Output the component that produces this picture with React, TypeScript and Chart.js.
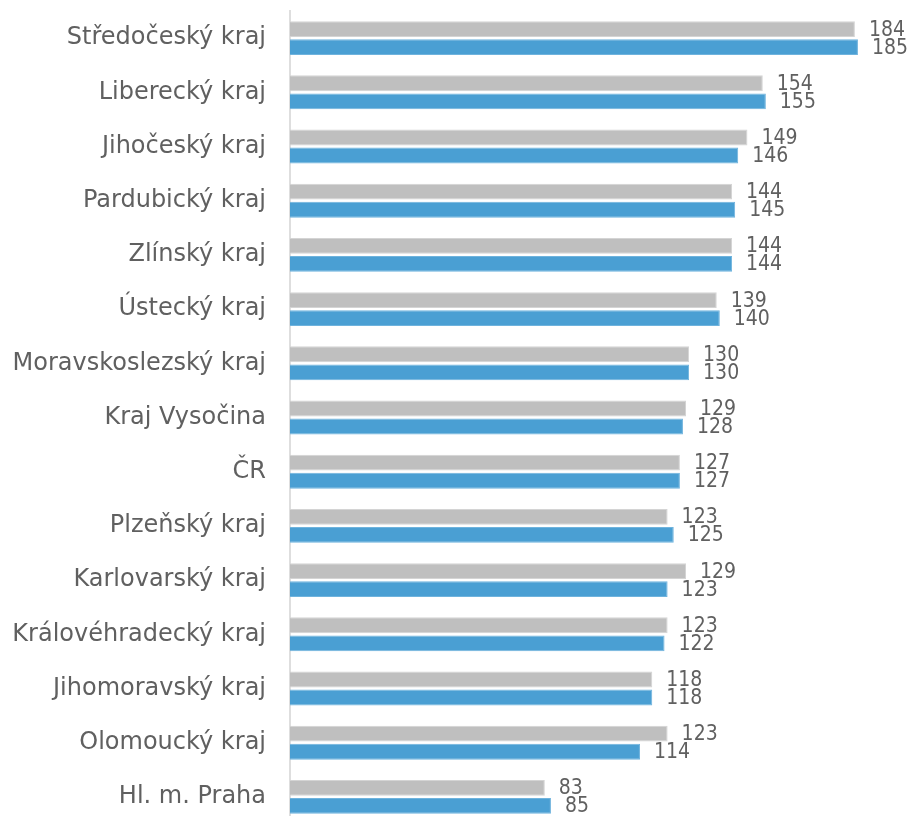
import React, { useEffect, useRef } from "react";
import { Chart, registerables } from "chart.js";

Chart.register(...registerables);

const categories = [
  "Středočeský kraj",
  "Liberecký kraj",
  "Jihočeský kraj",
  "Pardubický kraj",
  "Zlínský kraj",
  "Ústecký kraj",
  "Moravskoslezský kraj",
  "Kraj Vysočina",
  "ČR",
  "Plzeňský kraj",
  "Karlovarský kraj",
  "Královéhradecký kraj",
  "Jihomoravský kraj",
  "Olomoucký kraj",
  "Hl. m. Praha",
];

const grayValues = [184, 154, 149, 144, 144, 139, 130, 129, 127, 123, 129, 123, 118, 123, 83];
const blueValues = [185, 155, 146, 145, 144, 140, 130, 128, 127, 125, 123, 122, 118, 114, 85];

const FONT = "'DejaVu Sans', sans-serif";
const VALUE_FONT = "'DejaVu Sans Condensed', 'Noto Sans', sans-serif";
const TEXT_COLOR = "#606060";

const valueLabels = {
  id: "valueLabels",
  afterDatasetsDraw(chart: any) {
    const ctx = chart.ctx;
    ctx.save();
    ctx.font = `21px ${VALUE_FONT}`;
    ctx.fillStyle = TEXT_COLOR;
    ctx.textAlign = "left";
    ctx.textBaseline = "middle";
    chart.data.datasets.forEach((ds: any, i: number) => {
      const meta = chart.getDatasetMeta(i);
      meta.data.forEach((bar: any, j: number) => {
        ctx.fillText(String(ds.data[j]), bar.x + 14, bar.y + 1);
      });
    });
    ctx.restore();
  },
};

export default function App() {
  const ref = useRef<HTMLCanvasElement>(null);

  useEffect(() => {
    if (!ref.current) return;
    const chart = new Chart(ref.current, {
      type: "bar",
      data: {
        labels: categories,
        datasets: [
          {
            data: grayValues,
            backgroundColor: "#bfbfbf",
            borderColor: "#d4d4d4",
            borderWidth: 1,
            categoryPercentage: 0.665,
            barPercentage: 0.88,
          },
          {
            data: blueValues,
            backgroundColor: "#4a9fd3",
            borderColor: "#6fb3dd",
            borderWidth: 1,
            categoryPercentage: 0.665,
            barPercentage: 0.88,
          },
        ],
      },
      options: {
        indexAxis: "y",
        responsive: false,
        animation: false,
        layout: { padding: { top: 11, right: 3, bottom: 0, left: 0 } },
        plugins: {
          legend: { display: false },
          tooltip: { enabled: false },
        },
        scales: {
          x: {
            display: false,
            min: 0,
            max: 200,
          },
          y: {
            afterFit(scale: any) {
              scale.width = 290;
              scale.paddingTop = 0;
              scale.paddingBottom = 0;
            },
            grid: { display: false, drawTicks: false },
            border: { display: true, color: "#dedede", width: 2 },
            ticks: {
              padding: 24,
              color: TEXT_COLOR,
              font: { family: FONT, size: 24 },
            },
          },
        },
      },
      plugins: [valueLabels],
    });
    return () => chart.destroy();
  }, []);

  return (
    <div
      style={{
        position: "absolute",
        left: 0,
        top: 0,
        width: 907,
        height: 816,
        overflow: "hidden",
        background: "#ffffff",
      }}
    >
      <canvas ref={ref} width={907} height={824} style={{ display: "block" }} />
    </div>
  );
}
